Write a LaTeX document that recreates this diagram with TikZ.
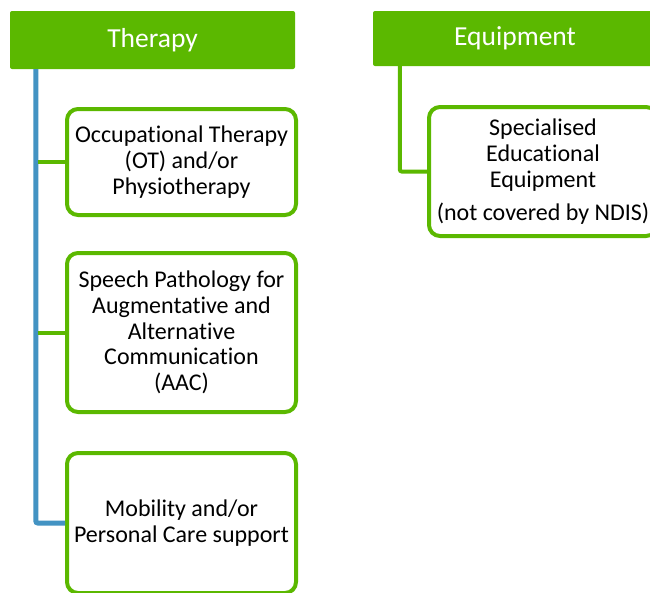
\documentclass[tikz,border=0pt]{standalone}
\usepackage{fontspec}
\setmainfont[Ligatures=NoCommon]{Carlito}
\definecolor{hgreen}{HTML}{5BB800}
\definecolor{lblue}{HTML}{4393C3}
\begin{document}
\begin{tikzpicture}[x=1pt,y=-1pt,
  hdr/.style={fill=hgreen, draw=none, rounded corners=2pt, text=white,
    font=\fontsize{27.5}{32}\selectfont, inner sep=0pt},
  item/.style={draw=hgreen, line width=4pt, fill=white, rounded corners=11pt,
    align=center, font=\fontsize{24}{25.8}\selectfont, inner sep=0pt},
  bl/.style={draw=lblue, line width=5pt, rounded corners=2pt},
  gl/.style={draw=hgreen, line width=4pt, rounded corners=2pt}]
\useasboundingbox (0,0) rectangle (650,592);
\clip (0,0) rectangle (650,592);
\fill[white] (0,0) rectangle (650,592);
% headers
\node[hdr, minimum width=285pt, minimum height=58pt] (th) at (152.5,40) {Therapy};
\node[hdr, minimum width=284pt, minimum height=55pt] (eq) at (515,38.5) {Equipment};
% boxes
\node[item, minimum width=229pt, minimum height=106pt] (b1) at (181.5,162)
  {Occupational Therapy\\(OT) and/or\\Physiotherapy};
\node[item, minimum width=229pt, minimum height=159pt] (b2) at (181.5,332.5)
  {Speech Pathology for\\Augmentative and\\Alternative\\Communication\\(AAC)};
\node[item, minimum width=229pt, minimum height=140pt] (b3) at (181.5,523)
  {Mobility and/or\\Personal Care support};
\node[item, minimum width=228pt, minimum height=129pt] (eb) at (543,171.5)
  {Specialised\\Educational\\Equipment\\[7pt](not covered by NDIS)};
% connectors
\draw[bl] ([xshift=26pt]th.south west) |- (b3.west);
\draw[gl] ([xshift=27pt]eq.south west) |- (eb.west);
\draw[gl] ([xshift=28.5pt]th.south west |- b1.west) -- (b1.west);
\draw[gl] ([xshift=28.5pt]th.south west |- b2.west) -- (b2.west);
\end{tikzpicture}
\end{document}
